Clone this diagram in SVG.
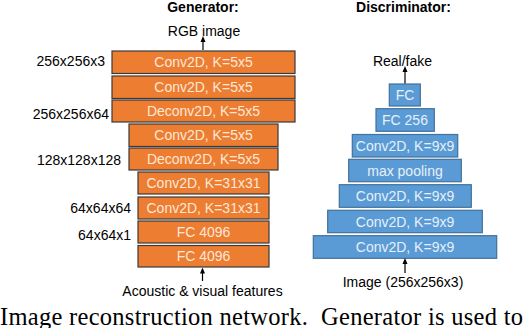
<svg xmlns="http://www.w3.org/2000/svg" width="526" height="328" viewBox="0 0 526 328">
<defs>
<marker id="ah" viewBox="0 0 6 6" refX="3" refY="3" markerWidth="6" markerHeight="6" orient="auto" markerUnits="userSpaceOnUse">
<path d="M0,0.5 L6,3 L0,5.5 Z" fill="#000"/>
</marker>
<style>
.g rect{fill:#ED7D31;stroke:#3a3a3a;stroke-width:1.2}
.d rect{fill:#5B9BD5;stroke:#41719C;stroke-width:1.2}
.bt{font-family:"Liberation Sans",Arial,sans-serif;font-size:14px;text-anchor:middle}
.g .bt{fill:#FCE8DA}
.d .bt{fill:#E6F0F9}
.lb{font-family:"Liberation Sans",Arial,sans-serif;font-size:14px;fill:#000}
.end{text-anchor:end}
.mid{text-anchor:middle}
.hd{font-family:"Liberation Sans",Arial,sans-serif;font-size:14px;font-weight:bold;text-anchor:middle}
.cap{font-family:"Liberation Serif","Times New Roman",serif;font-size:24.5px;white-space:pre}
.conn line{stroke:#000;stroke-width:1.2}
</style>
</defs>
<rect width="526" height="328" fill="#fff"/>
<text class="hd" x="203" y="12">Generator:</text>
<text class="hd" x="403.5" y="12">Discriminator:</text>
<text class="lb mid" x="204" y="36">RGB image</text>
<text class="lb end" x="105" y="66">256x256x3</text>
<text class="lb end" x="109" y="119">256x256x64</text>
<text class="lb end" x="121" y="165">128x128x128</text>
<text class="lb end" x="131" y="212.5">64x64x64</text>
<text class="lb end" x="131" y="240">64x64x1</text>
<text class="lb mid" x="202.5" y="295.5">Acoustic &amp; visual features</text>
<text class="lb mid" x="402.5" y="65.5">Real/fake</text>
<text class="lb mid" x="403" y="286.5">Image (256x256x3)</text>
<g id="gen1" class="g"><rect x="112" y="51" width="183" height="22.5"/><text class="bt" x="203.5" y="67">Conv2D, K=5x5</text></g>
<g id="gen2" class="g"><rect x="112" y="76" width="183" height="22.5"/><text class="bt" x="203.5" y="92">Conv2D, K=5x5</text></g>
<g id="gen3" class="g"><rect x="112" y="100" width="183" height="22"/><text class="bt" x="203.5" y="116">Deconv2D, K=5x5</text></g>
<g id="gen4" class="g"><rect x="129" y="124" width="149" height="22.5"/><text class="bt" x="203.5" y="140">Conv2D, K=5x5</text></g>
<g id="gen5" class="g"><rect x="129" y="148" width="149" height="22"/><text class="bt" x="203.5" y="164">Deconv2D, K=5x5</text></g>
<g id="gen6" class="g"><rect x="138" y="172" width="131" height="22"/><text class="bt" x="203.5" y="188">Conv2D, K=31x31</text></g>
<g id="gen7" class="g"><rect x="138" y="197" width="131" height="22"/><text class="bt" x="203.5" y="213">Conv2D, K=31x31</text></g>
<g id="gen8" class="g"><rect x="138" y="221" width="131" height="22"/><text class="bt" x="203.5" y="237">FC 4096</text></g>
<g id="gen9" class="g"><rect x="138" y="245.5" width="131" height="21.5"/><text class="bt" x="203.5" y="261">FC 4096</text></g>
<g id="dis1" class="d"><rect x="389.3" y="84" width="31" height="22"/><text class="bt" x="405" y="100">FC</text></g>
<g id="dis2" class="d"><rect x="376" y="108.7" width="58.3" height="22.6"/><text class="bt" x="405" y="125">FC 256</text></g>
<g id="dis3" class="d"><rect x="352.3" y="134.5" width="105.4" height="22.5"/><text class="bt" x="405" y="150.5">Conv2D, K=9x9</text></g>
<g id="dis4" class="d"><rect x="348.7" y="159.3" width="112.6" height="22.4"/><text class="bt" x="405" y="175.5">max pooling</text></g>
<g id="dis5" class="d"><rect x="339.3" y="184.7" width="132" height="22.6"/><text class="bt" x="405" y="201">Conv2D, K=9x9</text></g>
<g id="dis6" class="d"><rect x="327.7" y="210.3" width="154.6" height="22.4"/><text class="bt" x="405" y="226.5">Conv2D, K=9x9</text></g>
<g id="dis7" class="d"><rect x="313.3" y="235.7" width="183.4" height="22.6"/><text class="bt" x="405" y="252">Conv2D, K=9x9</text></g>
<g id="connectors" class="conn">
<line x1="203" y1="50" x2="203" y2="39" marker-end="url(#ah)"/>
<line x1="202.5" y1="281" x2="202.5" y2="270.5" marker-end="url(#ah)"/>
<line x1="405" y1="83.5" x2="405" y2="69" marker-end="url(#ah)"/>
<line x1="405" y1="273" x2="405" y2="261" marker-end="url(#ah)"/>
</g>
<text class="cap" x="0" y="325" textLength="523" lengthAdjust="spacing">Image reconstruction network.  Generator is used to</text>
</svg>
